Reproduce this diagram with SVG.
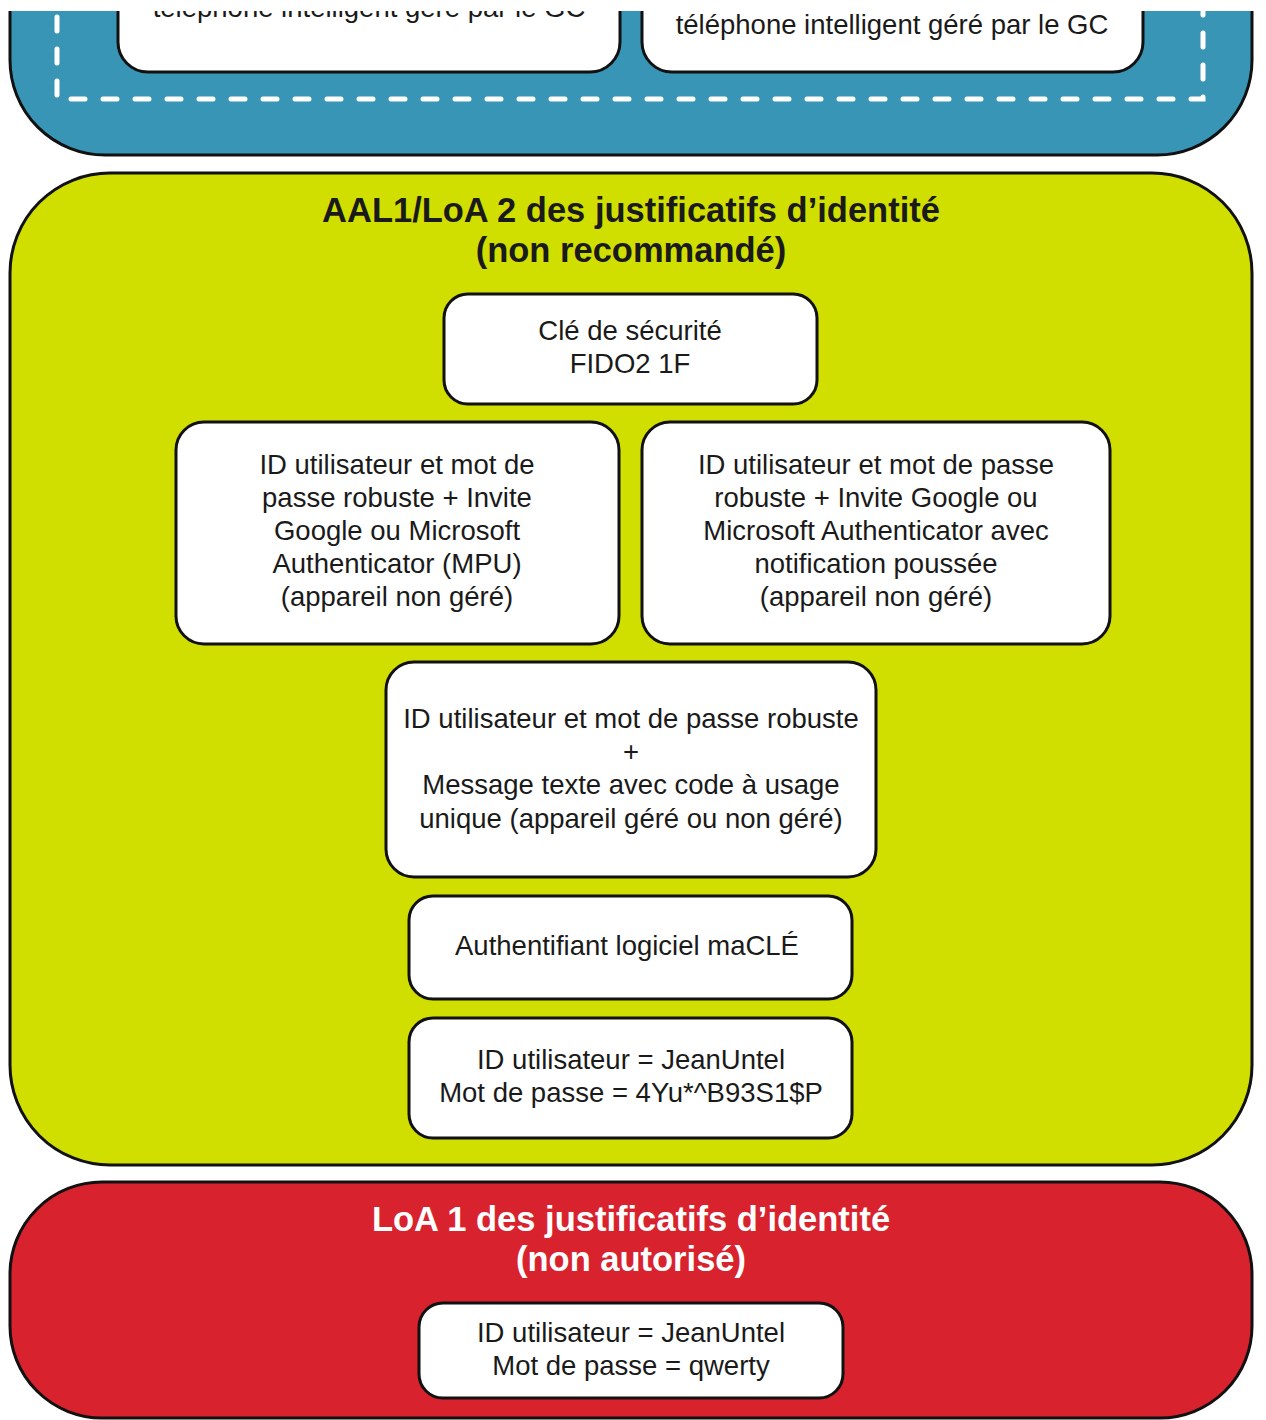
<svg xmlns="http://www.w3.org/2000/svg" width="1266" height="1420" viewBox="0 0 1266 1420">
<style>
.cont{stroke:#111;stroke-width:3}
.node{fill:#fff;stroke:#111;stroke-width:3}
.t{font-family:"Liberation Sans",Arial,sans-serif;font-size:27.5px;fill:#1a1a1a;text-anchor:middle}
.h{font-family:"Liberation Sans",Arial,sans-serif;font-size:34.5px;font-weight:bold;text-anchor:middle}
.dash{fill:none;stroke:#fff;stroke-width:5;stroke-linecap:round;stroke-dasharray:14 18}
</style>
<defs>
<clipPath id="topclip"><rect x="0" y="11" width="1266" height="1409"/></clipPath>
</defs>
<rect width="1266" height="1420" fill="#fff"/>
<g id="blue" clip-path="url(#topclip)">
<rect class="cont" x="10" y="-250" width="1242" height="405" rx="95" fill="#3895b6"/>
<path class="dash" d="M57,-50 V99 H1203 V-50" stroke-dashoffset="-3"/>
<g id="blue-left">
<rect class="node" x="118" y="-100" width="502" height="172" rx="30"/>
<text class="t" x="369" y="17">téléphone intelligent géré par le GC</text>
</g>
<g id="blue-right">
<rect class="node" x="642" y="-100" width="501" height="172" rx="30"/>
<text class="t" x="892" y="34">téléphone intelligent géré par le GC</text>
</g>
</g>
<g id="green">
<rect class="cont" x="10" y="173" width="1242" height="992" rx="100" fill="#d1df00"/>
<text class="h" fill="#1a1a1a"><tspan x="631" y="222">AAL1/LoA 2 des justificatifs d’identité</tspan><tspan x="631" y="262">(non recommandé)</tspan></text>
</g>
<g id="fido">
<rect class="node" x="444" y="294" width="373" height="110" rx="24"/>
<text class="t"><tspan x="630" y="340">Clé de sécurité</tspan><tspan x="630" y="373">FIDO2 1F</tspan></text>
</g>
<g id="mpu">
<rect class="node" x="176" y="422" width="443" height="222" rx="28"/>
<text class="t"><tspan x="397" y="474">ID utilisateur et mot de</tspan><tspan x="397" y="507">passe robuste + Invite</tspan><tspan x="397" y="540">Google ou Microsoft</tspan><tspan x="397" y="573">Authenticator (MPU)</tspan><tspan x="397" y="606">(appareil non géré)</tspan></text>
</g>
<g id="push">
<rect class="node" x="642" y="422" width="468" height="222" rx="28"/>
<text class="t"><tspan x="876" y="474">ID utilisateur et mot de passe</tspan><tspan x="876" y="507">robuste + Invite Google ou</tspan><tspan x="876" y="540">Microsoft Authenticator avec</tspan><tspan x="876" y="573">notification poussée</tspan><tspan x="876" y="606">(appareil non géré)</tspan></text>
</g>
<g id="sms">
<rect class="node" x="386" y="662" width="490" height="215" rx="28"/>
<text class="t"><tspan x="631" y="728">ID utilisateur et mot de passe robuste</tspan><tspan x="631" y="761">+</tspan><tspan x="631" y="794">Message texte avec code à usage</tspan><tspan x="631" y="828">unique (appareil géré ou non géré)</tspan></text>
</g>
<g id="macle">
<rect class="node" x="409" y="896" width="443" height="103" rx="24"/>
<text class="t" x="627" y="955">Authentifiant logiciel maCLÉ</text>
</g>
<g id="strongpw">
<rect class="node" x="409" y="1018" width="443" height="120" rx="24"/>
<text class="t"><tspan x="631" y="1069">ID utilisateur = JeanUntel</tspan><tspan x="631" y="1102">Mot de passe = 4Yu*^B93S1$P</tspan></text>
</g>
<g id="red">
<rect class="cont" x="10" y="1182" width="1242" height="236" rx="92" fill="#d8232f"/>
<text class="h" fill="#fff"><tspan x="631" y="1231">LoA 1 des justificatifs d’identité</tspan><tspan x="631" y="1271">(non autorisé)</tspan></text>
</g>
<g id="weakpw">
<rect class="node" x="419" y="1303" width="424" height="95" rx="24"/>
<text class="t"><tspan x="631" y="1342">ID utilisateur = JeanUntel</tspan><tspan x="631" y="1375">Mot de passe = qwerty</tspan></text>
</g>
<g id="connectors"/>
</svg>
